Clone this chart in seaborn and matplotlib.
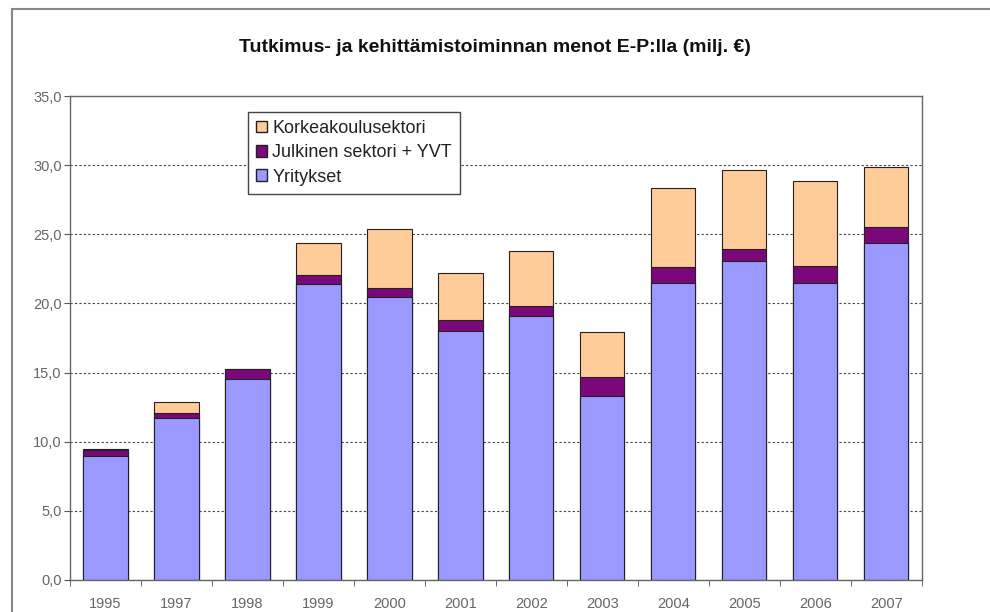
import numpy as np
import pandas as pd
import seaborn as sns
import matplotlib.pyplot as plt
from matplotlib.patches import Patch, Rectangle
from matplotlib.ticker import FuncFormatter, FixedLocator

# data (milj. €)
vuodet = ['1995', '1997', '1998', '1999', '2000', '2001', '2002', '2003', '2004', '2005', '2006', '2007']
yritykset = [9.0, 11.7, 14.5, 21.4, 20.5, 18.0, 19.1, 13.3, 21.45, 23.05, 21.45, 24.35]
julkinen = [0.4, 0.4, 0.75, 0.65, 0.65, 0.8, 0.75, 1.35, 1.2, 0.9, 1.25, 1.2]
korkeakoulu = [0.05, 0.8, 0.0, 2.35, 4.2, 3.4, 3.95, 3.3, 5.7, 5.7, 6.15, 4.35]

col_yrit = '#9999FF'
col_julk = '#7A087A'
col_korkea = '#FFCC99'

sns.set_style("white")
plt.rcParams['font.family'] = ['Liberation Sans', 'DejaVu Sans']

df = pd.DataFrame({'vuosi': vuodet, 'yrit': yritykset, 'julk': julkinen, 'korkea': korkeakoulu})
df['yrit_julk'] = df['yrit'] + df['julk']
df['yht'] = df['yrit_julk'] + df['korkea']

fig = plt.figure(figsize=(9.9, 6.12), dpi=100)
ax = fig.add_axes([0.0707, 0.0523, 0.8606, 0.7908])

# stacked bars drawn as overlapping cumulative sums
for col, c in [('yht', col_korkea), ('yrit_julk', col_julk), ('yrit', col_yrit)]:
    sns.barplot(data=df, x='vuosi', y=col, order=vuodet, color=c, saturation=1,
                width=0.62, edgecolor='#222222', linewidth=0.8, ax=ax)

ax.set_ylim(0, 35)
ax.set_xlim(-0.5, len(vuodet) - 0.5)
ax.set_yticks(np.arange(0, 35.1, 5))
ax.yaxis.set_major_formatter(FuncFormatter(lambda v, p: f'{v:.1f}'.replace('.', ',')))
ax.set_xlabel('')
ax.set_ylabel('')

ax.grid(axis='y', color='#444444', linestyle=(0, (2, 2)), linewidth=0.8)
ax.set_axisbelow(True)
for s in ax.spines.values():
    s.set_color('#666666')
    s.set_linewidth(1.0)

ax.tick_params(axis='y', which='major', left=True, length=4, color='#555555',
               labelsize=10.5, labelcolor='#666666', pad=2)
ax.tick_params(axis='x', which='major', bottom=False, length=0, labelsize=10.5,
               labelcolor='#666666', pad=12)
ax.xaxis.set_minor_locator(FixedLocator(np.arange(-0.5, len(vuodet), 1.0)))
ax.tick_params(axis='x', which='minor', bottom=True, length=4, color='#555555')

handles = [Patch(facecolor=col_korkea, edgecolor='#222222', label='Korkeakoulusektori'),
           Patch(facecolor=col_julk, edgecolor='#222222', label='Julkinen sektori + YVT'),
           Patch(facecolor=col_yrit, edgecolor='#222222', label='Yritykset')]
leg = ax.legend(handles=handles, loc='upper left', bbox_to_anchor=(0.209, 0.967),
                fontsize=13, frameon=True, fancybox=False, edgecolor='#444444',
                framealpha=1, handlelength=0.6, handleheight=0.6, handletextpad=0.3,
                borderpad=0.45, labelspacing=0.4, borderaxespad=0)
leg.get_frame().set_linewidth(1.0)
for t in leg.get_texts():
    t.set_color('#222222')

fig.suptitle('Tutkimus- ja kehittämistoiminnan menot E-P:lla (milj. €)',
             x=0.5, y=0.937, fontsize=14, fontweight='bold', color='#111111')

# outer chart border (cut off at right and bottom like the original)
fig.patches.append(Rectangle((0.012, -0.5), 2.0, 1.485, transform=fig.transFigure,
                             fill=False, edgecolor='#888888', linewidth=1.5))

fig.savefig('out.png', dpi=100)
